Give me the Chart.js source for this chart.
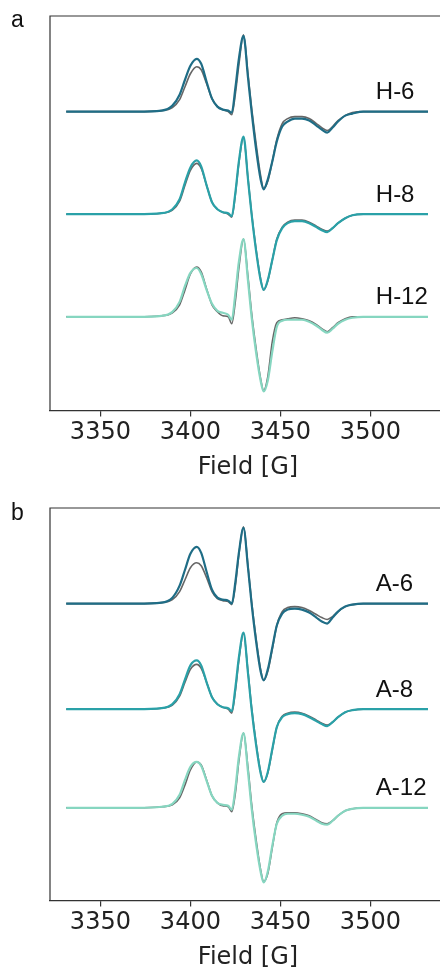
<!DOCTYPE html>
<html>
<head>
<meta charset="utf-8">
<script src="https://cdn.jsdelivr.net/npm/chart.js@4"></script>
<style>
  html, body { margin: 0; padding: 0; background: #fff; overflow: hidden; width: 440px; height: 972px; }
  canvas { position: absolute; left: 0; }
  #chartA { top: 0; }
  #chartB { top: 486px; }
</style>
</head>
<body>
<canvas id="chartA" width="450" height="486"></canvas>
<canvas id="chartB" width="450" height="490"></canvas>
<script>
// field axis shared by all spectra [G]
const field = [3331, 3370, 3384, 3390, 3394, 3397, 3400, 3403.5, 3406, 3409, 3412, 3415, 3418, 3421, 3423, 3425, 3427, 3429.5, 3432, 3434, 3436.5, 3439, 3440.7, 3443, 3445.5, 3448, 3451, 3454, 3458, 3462, 3466, 3470, 3473, 3476, 3479, 3482, 3486, 3490, 3496, 3532];
const tickLabels = [3350, 3400, 3450, 3500];

// intensities (a.u.), experiment vs simulation
const h6Exp = [0, 0, 1, 4, 12, 25, 38, 45, 42, 28, 13, 5, 2, 0, -3, 18, 48, 77, 38, 4, -32, -64, -77, -70, -50, -28, -12, -7, -5, -5, -7, -12, -16, -19, -15, -9, -4, -1, 0, 0];
const h6Sim = [0, 0, 1, 6, 17, 32, 46, 53, 48, 30, 13, 5, 2, 1, -1, 24, 54, 76, 34, 0, -38, -68, -78, -68, -50, -30, -15, -10, -7, -7, -9, -14, -18, -21, -16, -10, -4, -2, 0, 0];
const h8Exp = [0, 0, 1, 4, 13, 29, 44, 51, 46, 29, 12, 5, 2, 0, -3, 20, 52, 77, 36, 1, -35, -65, -76, -67, -46, -25, -13, -8, -6, -6, -8, -12, -15, -17, -14, -9, -4, -1, 0, 0];
const h8Sim = [0, 0, 1, 5, 15, 32, 47, 54, 48, 29, 12, 5, 2, 1, -2, 22, 54, 78, 35, 0, -37, -66, -76, -66, -46, -26, -14, -9, -7, -7, -9, -13, -16, -18, -14, -9, -4, -1, 0, 0];
const h12Exp = [0, 0, 1, 4, 12, 27, 43, 50, 45, 28, 12, 5, 1, 0, -7, 16, 50, 78, 40, 4, -32, -62, -74, -60, -25, -6, -3, -2, -1, -2, -4, -8, -12, -15, -11, -6, -2, 0, 0, 0];
const h12Sim = [0, 0, 1, 5, 15, 31, 44, 49, 43, 27, 13, 6, 4, 2, -3, 24, 56, 78, 36, 0, -36, -64, -75, -64, -35, -10, -4, -3, -3, -3, -5, -9, -13, -16, -12, -7, -3, -1, 0, 0];

const a6Exp = [0, 0, 1, 4, 12, 24, 36, 41, 38, 26, 12, 5, 3, 2, -1, 18, 50, 77, 38, 2, -35, -66, -77, -68, -46, -22, -8, -4, -3, -4, -7, -11, -14, -16, -13, -8, -3, -1, 0, 0];
const a6Sim = [0, 0, 1, 6, 18, 34, 50, 57, 51, 32, 14, 6, 4, 3, 0, 22, 52, 76, 36, 0, -38, -68, -77, -66, -44, -22, -10, -6, -5, -6, -9, -14, -18, -20, -14, -8, -3, -1, 0, 0];
const a8Exp = [0, 0, 1, 4, 13, 27, 40, 45, 41, 27, 12, 5, 2, 0, -4, 18, 50, 76, 38, 2, -34, -63, -73, -64, -41, -18, -7, -4, -3, -4, -7, -11, -14, -16, -13, -8, -3, -1, 0, 0];
const a8Sim = [0, 0, 1, 5, 15, 30, 44, 49, 44, 27, 12, 5, 2, 1, -2, 22, 53, 77, 36, 0, -36, -64, -73, -63, -40, -18, -8, -5, -4, -5, -8, -12, -15, -17, -13, -8, -3, -1, 0, 0];
const a12Exp = [0, 0, 1, 3, 10, 23, 38, 46, 43, 28, 12, 5, 2, 1, -4, 15, 48, 75, 40, 4, -32, -62, -74, -66, -40, -15, -6, -5, -5, -6, -8, -12, -15, -16, -13, -8, -3, -1, 0, 0];
const a12Sim = [0, 0, 1, 4, 13, 28, 41, 46, 42, 27, 12, 5, 3, 2, -2, 20, 52, 75, 36, 0, -36, -64, -75, -64, -38, -16, -8, -6, -6, -7, -9, -13, -16, -17, -13, -8, -3, -1, 0, 0];

const namesA = ["H-6", "H-8", "H-12"];
const namesB = ["A-6", "A-8", "A-12"];
const offsetsA = [300, 197, 94];
const offsetsB = [298, 192, 93];
const simColors = ["#1f6d86", "#2aa1a8", "#86d6c0"];
const expColor = "rgba(75,75,75,0.85)";

const toPoints = (vals, off) => vals.map((v, i) => ({ x: field[i], y: v + off }));

// chart.js paints lower dataset index last, so the simulation goes first
const buildSets = function (exps, sims, offsets) {
  const sets = [];
  sims.forEach((s, k) => {
    sets.push({
      data: toPoints(s, offsets[k]),
      borderColor: simColors[k],
      borderWidth: 2.2,
    });
  });
  exps.forEach((e, k) => {
    sets.push({
      data: toPoints(e, offsets[k]),
      borderColor: expColor,
      borderWidth: 1.6,
    });
  });
  return sets;
};

// box edges (left + top) and text labels
const boxPlugin = {
  id: "box",
  afterDraw(chart, args, opts) {
    const { ctx, chartArea: a, scales } = chart;
    ctx.save();
    ctx.strokeStyle = "#333";
    ctx.lineWidth = 1.2;
    ctx.beginPath();
    ctx.moveTo(a.left, a.bottom);
    ctx.lineTo(a.left, a.top);
    ctx.lineTo(a.right + 10, a.top);
    ctx.stroke();

    ctx.fillStyle = "#111";
    ctx.font = "24px 'Liberation Sans', Arial, sans-serif";
    ctx.textAlign = "left";
    ctx.textBaseline = "middle";
    opts.names.forEach((n, k) => {
      ctx.fillText(n, scales.x.getPixelForValue(3503), scales.y.getPixelForValue(opts.offsets[k] + 19));
    });

    ctx.font = "23px 'Liberation Sans', Arial, sans-serif";
    ctx.textBaseline = "alphabetic";
    ctx.fillText(opts.letter, 11, opts.letterY);
    ctx.restore();
  },
};

const makeChart = function (el, sets, yMax, padTop, names, offsets, letter, letterY) {
  return new Chart(el, {
    type: "line",
    data: { datasets: sets },
    options: {
      responsive: false,
      animation: false,
      layout: { padding: { left: 50, right: 4, top: padTop, bottom: 0 } },
      elements: {
        point: { radius: 0 },
        line: { cubicInterpolationMode: "monotone", fill: false },
      },
      scales: {
        x: {
          type: "linear",
          min: 3322,
          max: 3542,
          afterBuildTicks: (axis) => {
            axis.ticks = tickLabels.map((v) => ({ value: v }));
          },
          ticks: {
            color: "#222",
            padding: 2,
            maxRotation: 0,
            font: { family: "'DejaVu Sans'", size: 24 },
            callback: (v) => String(v),
          },
          grid: {
            drawOnChartArea: false,
            drawTicks: true,
            tickLength: 6,
            color: "#333",
            lineWidth: 1.2,
          },
          border: { display: true, color: "#333", width: 1.2 },
          title: {
            display: true,
            text: "Field [G]",
            color: "#222",
            font: { family: "'DejaVu Sans'", size: 24 },
            padding: { top: 4, bottom: 4 },
          },
        },
        y: { display: false, min: 0, max: yMax },
      },
      plugins: {
        legend: { display: false },
        tooltip: { enabled: false },
        box: { names: names, offsets: offsets, letter: letter, letterY: letterY },
      },
    },
    plugins: [boxPlugin],
  });
};

const init = function () {
  makeChart(
    document.getElementById("chartA"),
    buildSets([h6Exp, h8Exp, h12Exp], [h6Sim, h8Sim, h12Sim], offsetsA),
    396, 16, namesA, offsetsA, "a", 27
  );
  makeChart(
    document.getElementById("chartB"),
    buildSets([a6Exp, a8Exp, a12Exp], [a6Sim, a8Sim, a12Sim], offsetsB),
    394, 22, namesB, offsetsB, "b", 34
  );
};

document.addEventListener("DOMContentLoaded", init);
</script>
</body>
</html>
